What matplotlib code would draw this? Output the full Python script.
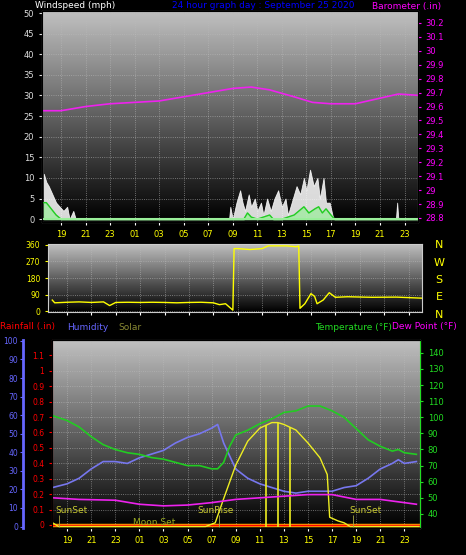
import numpy as np
import matplotlib
matplotlib.use("Agg")
import matplotlib.pyplot as plt

# time axis: hours since midnight of the previous day
hour_ticks = list(range(19, 48, 2))
hour_labels = ["%02d" % (h % 24) for h in hour_ticks]

# top panel: wind & barometer
gust_t = [17.6, 17.8, 18.0, 18.3, 18.6, 18.9, 19.2, 19.5, 19.7, 20.0, 20.2, 32.7, 32.8, 33.0, 33.3, 33.6, 33.8,
          34.0, 34.3, 34.5, 34.8, 35.0, 35.3, 35.5, 35.8, 36.1, 36.4, 36.7, 37.0, 37.3, 37.5, 37.8, 38.2, 38.5,
          38.8, 39.0, 39.3, 39.6, 39.9, 40.1, 40.4, 40.6, 40.9, 41.2, 46.3, 46.4, 46.5, 48.2]
gust_v = [11, 9, 8, 6, 4, 3, 2, 3, 0, 2, 0, 0, 3, 0, 4, 7, 4, 2, 6, 3, 5, 2, 4, 1, 5, 2, 5, 7, 3, 5, 1, 4, 8, 6,
          10, 7, 12, 8, 10, 5, 10, 4, 4, 0, 0, 4, 0, 0]
avg_t = [17.6, 17.8, 18.2, 18.6, 19.0, 33.9, 34.2, 34.5, 35.0, 35.5, 36.0, 36.3, 37.0, 37.5, 38.0, 38.8, 39.2,
         39.7, 40.0, 40.3, 40.6, 41.0, 41.3, 48.2]
avg_v = [4, 4, 2.5, 1, 0, 0, 1.5, 0.5, 0, 0.5, 1, 0, 0, 0.5, 1, 3, 1.5, 2.5, 3, 1.5, 2.5, 1, 0, 0]
baro_t = [17.6, 19, 21, 23, 25, 27, 29, 31, 33, 34.5, 36, 38, 39.5, 41, 43, 45, 46.5, 48.2]
baro_v = [29.57, 29.57, 29.6, 29.62, 29.63, 29.64, 29.67, 29.7, 29.73, 29.74, 29.72, 29.67, 29.63, 29.62,
          29.62, 29.66, 29.69, 29.68]

# middle panel: wind direction
dir_t = [17.8, 18.0, 19, 20, 21, 22, 22.5, 23, 24, 25, 26, 27, 28, 29, 30, 31, 31.5, 32, 32.6, 32.7, 33, 34,
         35, 35.5, 37, 37.8, 38.0, 38.1, 38.5, 39, 39.3, 39.5, 40, 40.5, 41, 42, 44, 46, 48.2]
dir_v = [60, 45, 48, 50, 47, 50, 30, 47, 48, 47, 48, 47, 45, 47, 48, 45, 35, 40, 5, 340, 340, 335, 340, 355,
         355, 350, 355, 15, 40, 95, 80, 40, 60, 100, 75, 78, 75, 76, 70]

# bottom panel
temp_t = [17.8, 19, 20, 21, 22, 23, 24, 25, 26, 27, 28, 29, 30, 31, 31.5, 32, 32.5, 33, 34, 35, 36, 37, 38, 39,
          40, 41, 42, 43, 44, 45, 46, 46.5, 47, 48]
temp_v = [101, 98, 94, 88, 83, 80, 78, 77, 75, 74, 72, 70, 70, 68, 68, 72, 82, 89, 92, 96, 99, 103, 104, 107,
          107, 104, 100, 93, 86, 82, 79, 80, 78, 77]
hum_t = [17.8, 19, 20, 21, 22, 23, 24, 25, 26, 27, 28, 29, 30, 31, 31.5, 32, 33, 34, 35, 36, 37, 38, 39, 40,
         41, 42, 43, 44, 45, 46, 46.5, 47, 48]
hum_v = [21, 23, 26, 31, 35, 35, 34, 37, 39, 41, 45, 48, 50, 53, 55, 45, 31, 26, 23, 21, 19, 18, 19, 19, 19, 21,
         22, 26, 31, 34, 36, 34, 35]
dew_t = [17.8, 20, 23, 25, 27, 29, 31, 33, 35, 37, 39, 41, 43, 45, 47, 48]
dew_v = [50, 49, 48.5, 46, 45, 45.5, 47, 49, 50, 51, 52, 52, 49, 49, 47, 46]
solar_t = [17.8, 18.3, 30.5, 31.3, 32, 33, 34, 35, 36, 36.5, 37, 38, 39, 40, 40.6, 40.8, 41.5, 42, 42.5, 48.2]
solar_v = [2, 0, 0, 2, 15, 33, 46, 53, 56, 56, 55, 52, 45, 37, 28, 5, 3, 2, 0, 0]
solar_spikes = [35.5, 36.5, 37.5]
sun_events = [(18.0, "SunSet"), (31.3, "SunRise"), (42.4, "SunSet")]

W, H = 466, 555
fig = plt.figure(figsize=(W / 100, H / 100), dpi=100, facecolor="black")


def box(x0, y0, x1, y1):
    return fig.add_axes([x0 / W, 1 - y1 / H, (x1 - x0) / W, (y1 - y0) / H])


def style(ax, xlim):
    ax.set_facecolor("black")
    grad = np.linspace(0.75, 0.0, 100).reshape(-1, 1)
    ax.imshow(grad, cmap="gray", vmin=0, vmax=1, aspect="auto", extent=[0, 1, 0, 1],
              transform=ax.transAxes, zorder=0)
    ax.set_xlim(*xlim)
    ax.set_xticks(hour_ticks)
    ax.grid(True, color="#bbbbbb", ls=":", lw=0.6, alpha=0.7)
    for s in ax.spines.values():
        s.set_color("#cccccc")
    ax.tick_params(colors="white", labelsize=6, length=2)


# ---- top ----
ax1 = box(42, 11, 418, 222)
style(ax1, (17.45, 48.1))
ax1.set_ylim(-0.7, 50.5)
ax1.set_yticks(range(0, 51, 5))
ax1.set_xticklabels(hour_labels, color="yellow")
ax1.tick_params(axis="y", colors="#dddddd")
ax1.fill_between(gust_t, gust_v, color="white", alpha=0.85, lw=0.6, zorder=2)
ax1.fill_between(avg_t, avg_v, color="#99ee99", alpha=0.7, zorder=3)
ax1.plot(avg_t, avg_v, color="#22cc22", lw=1, zorder=4)
ax1.axhline(0, color="#99ee99", lw=1.5, zorder=4)
ax1b = ax1.twinx()
ax1b.set_ylim(28.771, 30.286)
ax1b.set_yticks(np.round(np.arange(28.8, 30.21, 0.1), 1))
ax1b.set_yticklabels([("%g" % v) for v in np.round(np.arange(28.8, 30.21, 0.1), 1)])
ax1b.tick_params(colors="magenta", labelsize=6, length=2)
ax1b.plot(baro_t, baro_v, color="#ee22ee", lw=1.2)
fig.text(35 / W, 1 - 6 / H, "Windspeed (mph)", color="white", fontsize=6.5, va="center")
fig.text(172 / W, 1 - 6 / H, "24 hour graph day : September 25 2020", color="blue", fontsize=6.5, va="center")
fig.text(372 / W, 1 - 6 / H, "Barometer (.in)", color="magenta", fontsize=6.5, va="center")

# ---- middle ----
ax2 = box(48, 244, 422, 312)
style(ax2, (17.45, 48.1))
ax2.set_ylim(-5, 365)
ax2.set_yticks([0, 90, 180, 270, 360])
ax2.set_xticklabels([])
ax2.tick_params(axis="y", colors="yellow", labelsize=5.5)
ax2.plot(dir_t, dir_v, color="yellow", lw=1)
for i, c in enumerate("NWSEN"):
    fig.text(439 / W, 1 - (245 + i * 17.5) / H, c, color="yellow", fontsize=8, ha="center", va="center")

# ---- bottom ----
ax3 = box(52, 340, 420, 528)
style(ax3, (17.75, 48.3))
ax3.set_ylim(-0.02, 1.2)
ax3.set_yticks(np.round(np.arange(0, 1.11, 0.1), 1))
ax3.set_yticklabels(["%g" % v for v in np.round(np.arange(0, 1.11, 0.1), 1)])
ax3.tick_params(axis="y", colors="red", labelsize=5.5)
ax3.set_xticklabels(hour_labels, color="yellow")
ax3.spines["left"].set_color("red")
ax3.axhline(0, color="orange", lw=2.5, zorder=3)
ax3.axhline(0, color="red", lw=1, zorder=3)

axh = ax3.twinx()
axh.spines["right"].set_visible(False)
axh.spines["left"].set_visible(True)
axh.spines["left"].set_position(("outward", 21))
axh.spines["left"].set_color("#6666ff")
axh.spines["left"].set_linewidth(2)
axh.yaxis.set_ticks_position("left")
axh.yaxis.set_label_position("left")
axh.set_ylim(-0.8, 100.5)
axh.set_yticks(range(0, 101, 10))
axh.tick_params(colors="#6666ff", labelsize=5.5, length=2, pad=1.5)
axh.plot(hum_t, hum_v, color="#7777ee", lw=1.2)
axh.plot(solar_t, solar_v, color="#eeee22", lw=1)
for s in solar_spikes:
    axh.vlines(s, 0, np.interp(s, solar_t, solar_v), color="#eeee22", lw=1.2)
for t, lbl in sun_events:
    axh.vlines(t + 0.3, 0, 6, color="#aaaa44", lw=0.6)
    axh.text(t, 7.5, lbl, color="#cccc33", fontsize=6.5, ha="center" if lbl == "SunRise" else "left")
axh.text(24.5, 0.8, "Moon Set", color="#99aa22", fontsize=6.5)

axt = ax3.twinx()
axt.set_ylim(31.25, 148)
axt.set_yticks(range(40, 141, 10))
axt.tick_params(colors="#22dd22", labelsize=6, length=2)
axt.spines["right"].set_color("#22dd22")
axt.plot(temp_t, temp_v, color="#22cc22", lw=1.2)
axt.plot(dew_t, dew_v, color="#ee22ee", lw=1.2)

fig.text(0 / W, 1 - 327 / H, "Rainfall (.in)", color="red", fontsize=6.5, va="center")
fig.text(67 / W, 1 - 327 / H, "Humidity", color="#6666ff", fontsize=6.5, va="center")
fig.text(118 / W, 1 - 327 / H, "Solar", color="#888833", fontsize=6.5, va="center")
fig.text(392 / W, 1 - 327 / H, "Temperature (\u00b0F)", color="#22dd22", fontsize=6.5, va="center", ha="right")
fig.text(392 / W, 1 - 327 / H, "Dew Point (\u00b0F)", color="magenta", fontsize=6.5, va="center")

fig.savefig("out.png", dpi=100, facecolor="black")
